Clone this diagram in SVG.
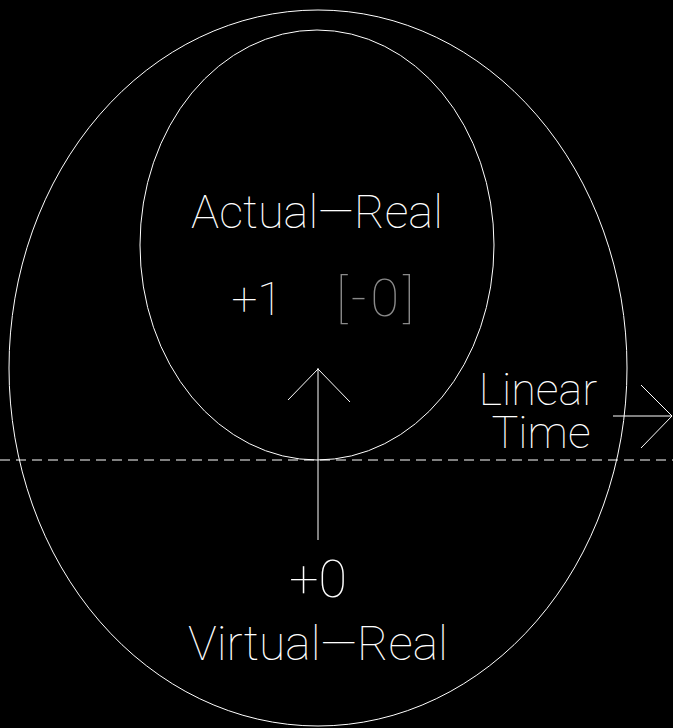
<svg xmlns="http://www.w3.org/2000/svg" width="673" height="728" viewBox="0 0 673 728">
<style>
.ln{fill:none;stroke:#fff;stroke-width:1}
.t{font-family:Roboto,"Noto Sans",sans-serif;font-weight:100;fill:#fff;text-anchor:middle}
</style>
<rect width="673" height="728" fill="#000"/>
<g id="outer"><ellipse class="ln" cx="318" cy="368" rx="309" ry="358"/></g>
<g id="inner"><ellipse class="ln" cx="317" cy="245" rx="177" ry="215"/></g>
<g id="connectors">
<line class="ln" x1="0" y1="460" x2="673" y2="460" stroke-dasharray="10 6"/>
<line class="ln" x1="318" y1="368" x2="318" y2="540"/>
<polyline class="ln" points="288,400 318,369 350,402"/>
<line class="ln" x1="613" y1="416" x2="672" y2="416"/>
<polyline class="ln" points="641,385 672,416 641,448"/>
</g>
<g id="actual">
<text class="t" x="317" y="228" font-size="47">Actual—Real</text>
<text class="t" x="257" y="315" font-size="46">+1</text>
<text class="t" x="377" y="316" font-size="52" letter-spacing="4" style="fill:#8a8a8a">[-0]</text>
</g>
<g id="virtual">
<text class="t" x="318" y="597" font-size="52">+0</text>
<text class="t" x="318" y="660" font-size="48">Virtual—Real</text>
</g>
<g id="time">
<text class="t" x="538" y="405" font-size="45">Linear</text>
<text class="t" x="541" y="448" font-size="45">Time</text>
</g>
</svg>
